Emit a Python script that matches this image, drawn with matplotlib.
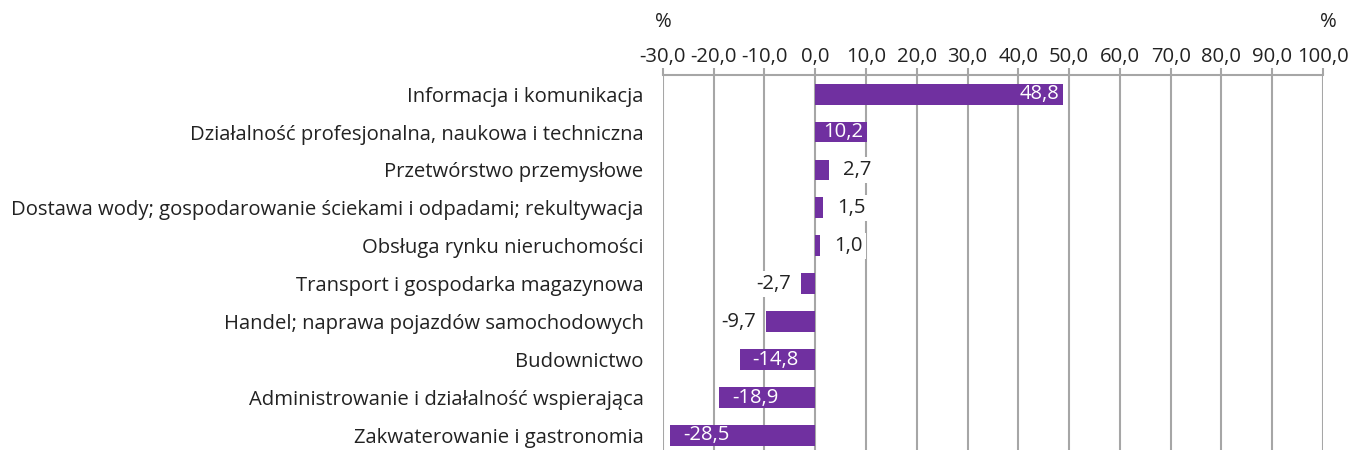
import numpy as np
import matplotlib.pyplot as plt

plt.rcParams['font.family'] = ['Open Sans', 'DejaVu Sans']

kategorie = [
    'Informacja i komunikacja',
    'Działalność profesjonalna, naukowa i techniczna',
    'Przetwórstwo przemysłowe',
    'Dostawa wody; gospodarowanie ściekami i odpadami; rekultywacja',
    'Obsługa rynku nieruchomości',
    'Transport i gospodarka magazynowa',
    'Handel; naprawa pojazdów samochodowych',
    'Budownictwo',
    'Administrowanie i działalność wspierająca',
    'Zakwaterowanie i gastronomia',
]
wartosci = [48.8, 10.2, 2.7, 1.5, 1.0, -2.7, -9.7, -14.8, -18.9, -28.5]
# etykieta wewnatrz slupka (True) czy obok (False)
wewnatrz = [True, True, False, False, False, False, False, True, True, True]
ticki = np.arange(-30, 101, 10)

kolor = '#7030A0'
szary = '#A6A6A6'
fs = 14.6

fig = plt.figure(figsize=(13.5, 4.5), dpi=100)
ax = fig.add_axes([0.491, -0.014, 0.489, 0.847])

y = np.arange(len(kategorie))
ax.barh(y, wartosci, height=0.55, color=kolor, zorder=3)

ax.set_xlim(-30, 100)
ax.set_ylim(9.55, -0.5)
ax.set_xticks(ticki)
ax.set_xticklabels([f'{t:.1f}'.replace('.', ',') for t in ticki], fontsize=fs, color='#222222')
ax.xaxis.tick_top()
ax.tick_params(axis='x', direction='out', length=5, width=1.5, color=szary, pad=1)
ax.set_yticks(y)
ax.set_yticklabels(kategorie, fontsize=fs, color='#222222')
ax.tick_params(axis='y', length=0, pad=14)

ax.grid(axis='x', color=szary, linewidth=1.5, zorder=0)
for s in ['left', 'right', 'bottom']:
    ax.spines[s].set_visible(False)
ax.spines['top'].set_color(szary)
ax.spines['top'].set_linewidth(1.5)

for yi, v, w in zip(y, wartosci, wewnatrz):
    txt = f'{v:.1f}'.replace('.', ',')
    if w:
        if v > 0:
            ax.text(v - 0.8, yi, txt, ha='right', va='center', color='white', fontsize=fs, zorder=4)
        else:
            ax.text(v + 2.5, yi, txt, ha='left', va='center', color='white', fontsize=fs, zorder=4)
    else:
        if v > 0:
            ax.text(v + 2.8, yi, txt, ha='left', va='center', color='#222222', fontsize=fs, zorder=4,
                    bbox=dict(facecolor='white', edgecolor='none', pad=2))
        else:
            ax.text(v - 2.0, yi, txt, ha='right', va='center', color='#222222', fontsize=fs, zorder=4,
                    bbox=dict(facecolor='white', edgecolor='none', pad=2))

fig.text(663 / 1350, 1 - 22 / 450, '%', ha='center', va='center', fontsize=fs, color='#222222')
fig.text(1328 / 1350, 1 - 22 / 450, '%', ha='center', va='center', fontsize=fs, color='#222222')

fig.savefig('out.png', dpi=100)
